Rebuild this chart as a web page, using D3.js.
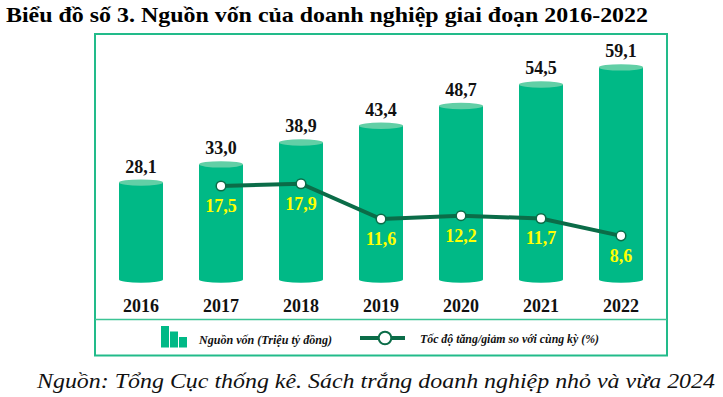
<!DOCTYPE html>
<html><head><meta charset="utf-8">
<script src="https://cdn.jsdelivr.net/npm/d3@7"></script>
<style>body{margin:0;background:#fff}svg{display:block}svg text{font-family:"Liberation Serif","Times New Roman",serif}</style>
</head><body>
<script>
const years = ["2016","2017","2018","2019","2020","2021","2022"];
const capital = [28.1, 33.0, 38.9, 43.4, 48.7, 54.5, 59.1];
const growthYears = ["2017","2018","2019","2020","2021","2022"];
const growth = [17.5, 17.9, 11.6, 12.2, 11.7, 8.6];
const titleText = "Biểu đồ số 3. Nguồn vốn của doanh nghiệp giai đoạn 2016-2022";
const sourceText = "Nguồn: Tổng Cục thống kê. Sách trắng doanh nghiệp nhỏ và vừa 2024";
const legendBar = "Nguồn vốn (Triệu tỷ đồng)";
const legendLine = "Tốc độ tăng/giảm so với cùng kỳ (%)";

const W = 723, H = 397;
const serif = '"Liberation Serif","Times New Roman",serif';
const fmt = v => d3.format(".1f")(v).replace(".", ",");

const svg = d3.select("body").append("svg").attr("width", W).attr("height", H);

const barColor = "#00b986", topColor = "#62cfa6", lineColor = "#0b6c48", frameColor = "#22bb8a";

// title
svg.append("text").attr("x", 6).attr("y", 22)
  .style("font-family", serif).attr("font-weight", "bold").attr("font-size", 21)
  .attr("textLength", 642).attr("lengthAdjust", "spacingAndGlyphs")
  .text(titleText);

// frame
svg.append("rect").attr("x", 95).attr("y", 34).attr("width", 572).attr("height", 321.5)
  .attr("fill", "none").attr("stroke", frameColor).attr("stroke-width", 2);
svg.append("line").attr("x1", 95).attr("x2", 667).attr("y1", 319.5).attr("y2", 319.5)
  .attr("stroke", "#3cc495").attr("stroke-width", 1.5);

const x = d3.scaleBand().domain(years).range([101, 661]).paddingInner(0.45).paddingOuter(0.225);
const y = d3.scaleLinear().domain([0, 70]).range([287, 287 - 70 * 3.716]);
const y2 = d3.scaleLinear().domain([0, 30]).range([284, 284 - 30 * 5.6]);
const baseY = 279.5, ry = 3.2;

const bars = svg.append("g").selectAll("g").data(years.map((yr, i) => ({yr, v: capital[i]}))).join("g");
bars.append("ellipse").attr("cx", d => x(d.yr) + x.bandwidth() / 2).attr("cy", baseY)
  .attr("rx", x.bandwidth() / 2).attr("ry", ry).attr("fill", barColor);
bars.append("rect").attr("x", d => x(d.yr)).attr("width", x.bandwidth())
  .attr("y", d => y(d.v)).attr("height", d => baseY - y(d.v)).attr("fill", barColor);
bars.append("ellipse").attr("cx", d => x(d.yr) + x.bandwidth() / 2).attr("cy", d => y(d.v))
  .attr("rx", x.bandwidth() / 2).attr("ry", ry).attr("fill", topColor);
bars.append("text").attr("x", d => x(d.yr) + x.bandwidth() / 2).attr("y", d => y(d.v) - 10)
  .attr("text-anchor", "middle").style("font-family", serif).attr("font-weight", "bold")
  .attr("font-size", 18).attr("fill", "#111").text(d => fmt(d.v));

// x axis labels
const xAxis = d3.axisBottom(x).tickSize(0).tickPadding(0);
const gx = svg.append("g").attr("transform", "translate(0,298)").call(xAxis);
gx.attr("font-family", null);
gx.select(".domain").remove();
gx.selectAll("text").style("font-family", serif).attr("font-weight", "bold")
  .attr("font-size", 18).attr("fill", "#111").attr("dy", "0.8em");

// line
const pts = growthYears.map((yr, i) => ({yr, v: growth[i]}));
const cx = d => x(d.yr) + x.bandwidth() / 2;
svg.append("path").datum(pts)
  .attr("d", d3.line().x(cx).y(d => y2(d.v)))
  .attr("fill", "none").attr("stroke", lineColor).attr("stroke-width", 4);
svg.append("g").selectAll("circle").data(pts).join("circle")
  .attr("cx", cx).attr("cy", d => y2(d.v)).attr("r", 4.8)
  .attr("fill", "#fff").attr("stroke", lineColor).attr("stroke-width", 1.5);
svg.append("g").selectAll("text").data(pts).join("text")
  .attr("x", cx).attr("y", d => y2(d.v) + 26).attr("text-anchor", "middle")
  .style("font-family", serif).attr("font-weight", "bold").attr("font-size", 18)
  .attr("fill", "#ffff00").text(d => fmt(d.v));

// legend
const lg = svg.append("g");
[[161, 326], [170, 331.5], [179, 337]].forEach(([lx, ly]) => {
  lg.append("rect").attr("x", lx).attr("y", ly).attr("width", 8).attr("height", 347.5 - ly).attr("fill", barColor);
});
lg.append("text").attr("x", 199).attr("y", 344).style("font-family", serif)
  .attr("font-style", "italic").attr("font-weight", "bold").attr("font-size", 13)
  .attr("textLength", 133).attr("lengthAdjust", "spacingAndGlyphs").attr("fill", "#111").text(legendBar);
lg.append("line").attr("x1", 360).attr("x2", 405).attr("y1", 338).attr("y2", 338)
  .attr("stroke", lineColor).attr("stroke-width", 4);
lg.append("circle").attr("cx", 385).attr("cy", 338).attr("r", 6.3)
  .attr("fill", "#fff").attr("stroke", lineColor).attr("stroke-width", 2);
lg.append("text").attr("x", 420).attr("y", 343).style("font-family", serif)
  .attr("font-style", "italic").attr("font-weight", "bold").attr("font-size", 13)
  .attr("textLength", 179).attr("lengthAdjust", "spacingAndGlyphs").attr("fill", "#111").text(legendLine);

// source
svg.append("text").attr("x", 37).attr("y", 388).style("font-family", serif)
  .attr("font-style", "italic").attr("font-size", 22)
  .attr("textLength", 678).attr("lengthAdjust", "spacingAndGlyphs").attr("fill", "#111").text(sourceText);
</script>
</body></html>
